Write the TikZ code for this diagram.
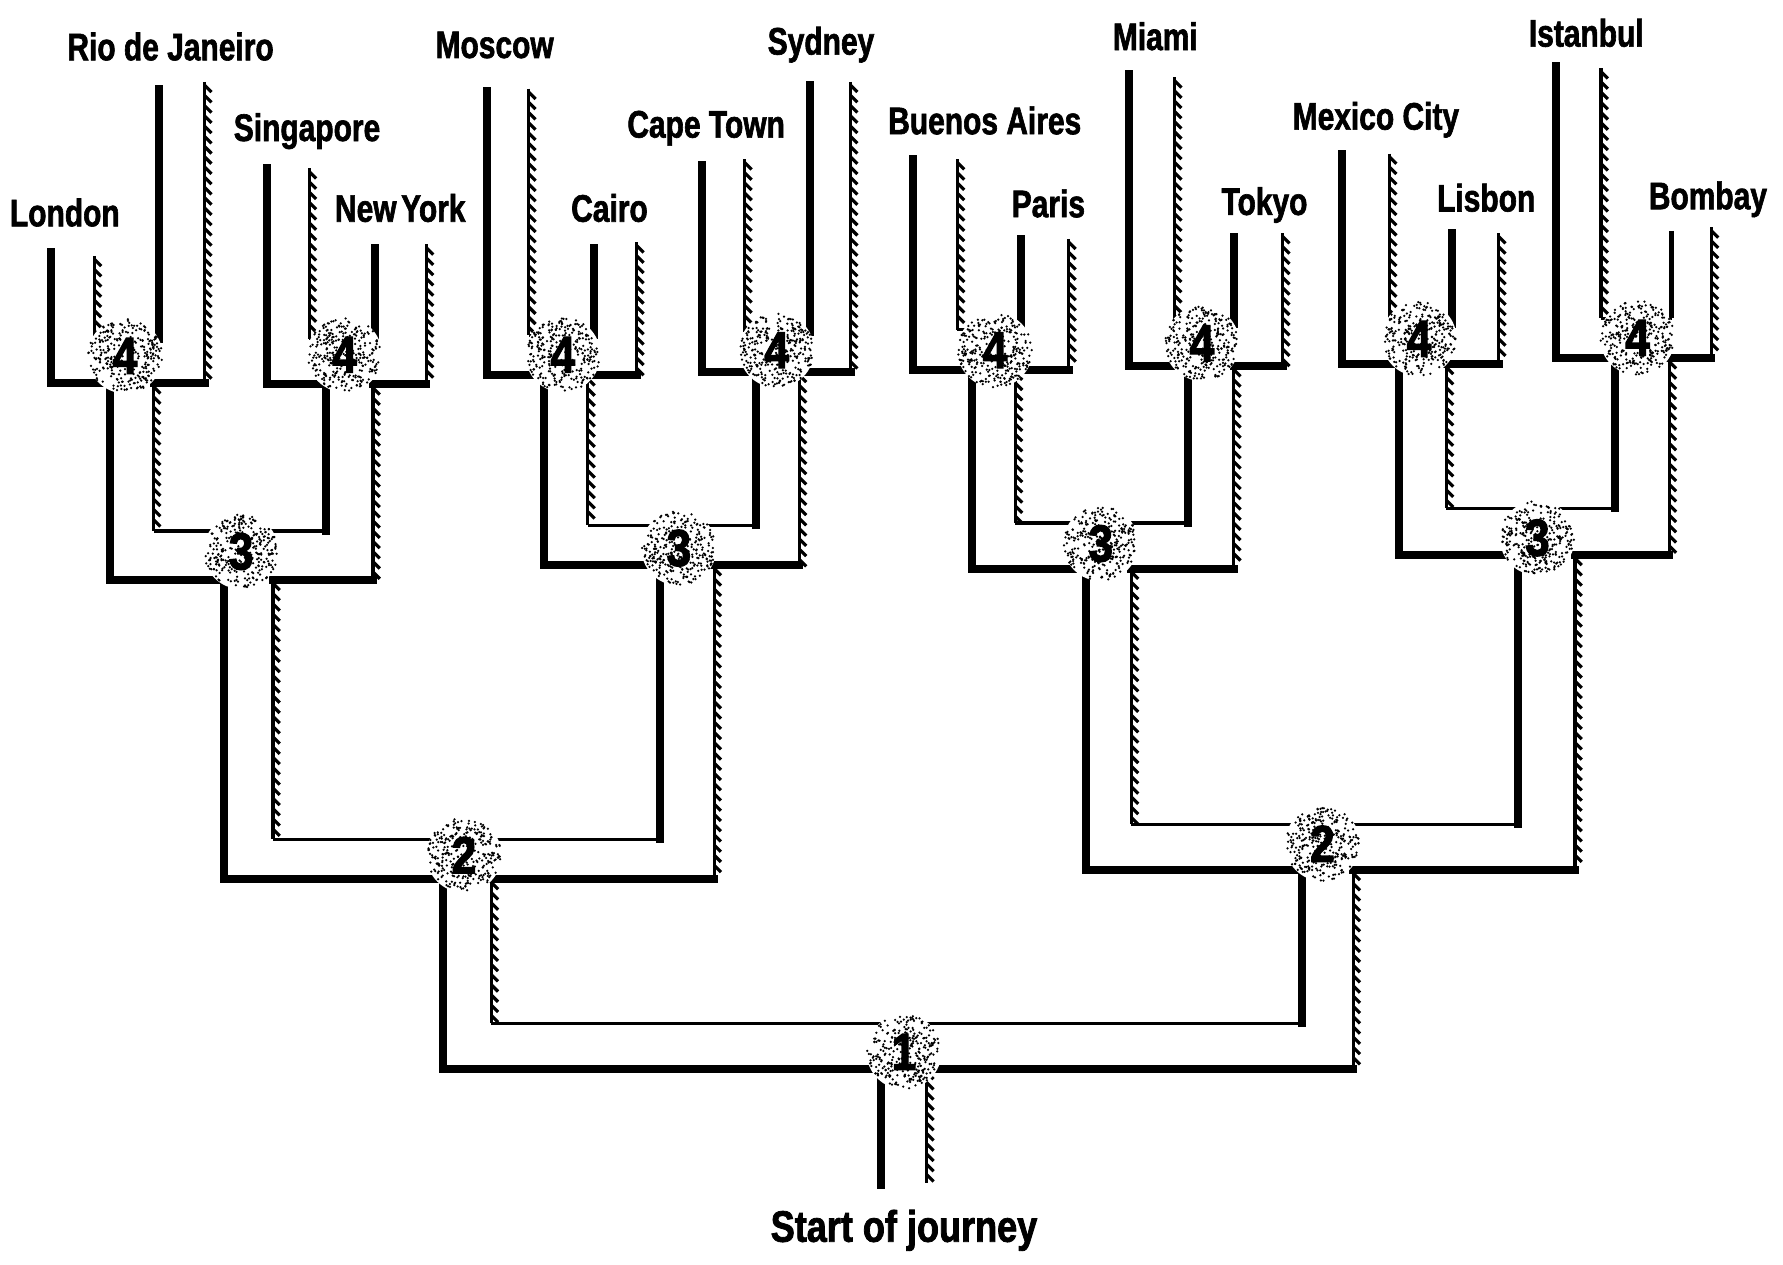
\documentclass[tikz,border=0pt]{standalone}
\usepackage{fontspec}
\setmainfont{Liberation Sans}[FakeStretch=0.78, BoldFeatures={FakeBold=1.6}]
\newfontfamily\startfont{Liberation Sans}[FakeStretch=0.82, BoldFeatures={FakeBold=1.8}]
\newfontfamily\digitfont{Liberation Sans}[FakeStretch=0.85, BoldFeatures={FakeBold=2.2}]

\tikzset{
  thickwall/.style={line width=2.0pt, line cap=rect, line join=miter},
  thinwall/.style={line width=0.8pt},
  hatchwall/.style={line width=0.8pt},
  city/.style={anchor=base, inner sep=0pt, font=\fontsize{9.6}{11}\selectfont\bfseries},
  startlabel/.style={anchor=base, inner sep=0pt, font=\startfont\fontsize{11}{13}\selectfont\bfseries},
  digit/.style={inner sep=0pt, font=\digitfont\fontsize{13}{15}\selectfont\bfseries},
  jdisc/.style={circle, fill=white, minimum size=0.66cm, inner sep=0pt},
}

% vertical hatched wall: x, ytop, ybottom (picture coordinates, y downward)
\newcommand\hatchline[3]{%
  \draw[hatchwall] (#1,#2) -- (#1,#3);
  \pgfmathsetmacro\hatchA{#2+3}%
  \pgfmathsetmacro\hatchB{#2+12}%
  \pgfmathsetmacro\hatchC{#3-5}%
  \foreach \hy in {\hatchA,\hatchB,...,\hatchC}{\draw[hatchwall] (#1,\hy) -- ++(6,6);}
}

% stippled junction disc: name, x, y, digit
\newcommand\jstipple[4]{%
  \node[jdisc] (#1) at (#2,#3) {};
  \foreach \k in {1,...,300}{%
    \pgfmathsetmacro\stipR{32.5*sqrt(rnd)}%
    \pgfmathsetmacro\stipA{360*rnd}%
    \pgfmathsetmacro\stipX{#2+\stipR*cos(\stipA)}%
    \pgfmathsetmacro\stipY{#3+\stipR*sin(\stipA)}%
    \fill (\stipX,\stipY) circle (1.1);
  }
  \node[digit] (#1n) at (#1) {#4};
}

\begin{document}
\begin{tikzpicture}[x=0.01cm, y=-0.01cm]
\pgfmathsetseed{7}
\fill[white] (0,0) rectangle (1568,1112);
\useasboundingbox (0,0) rectangle (1568,1112);

% ---------------- J1
\draw[thickwall] (390,940) -- (775,940) -- (775,1042);
\hatchline{815}{940}{1040}
\draw[thickwall] (815,940) -- (1190,940);
\draw[thinwall] (432,900) -- (1145,900);

% ---------------- J2 left
\draw[thickwall] (197,773) -- (390,773) -- (390,940);
\hatchline{432}{773}{900}
\draw[thickwall] (432,773) -- (628,773);
\draw[thinwall] (240,738) -- (580,738);

% ---------------- J2 right
\draw[thickwall] (955,765) -- (1145,765) -- (1145,900);
\hatchline{1190}{765}{940}
\draw[thickwall] (1190,765) -- (1385,765);
\draw[thinwall] (995,725) -- (1335,725);

% ---------------- J3a
\draw[thickwall] (97,510) -- (197,510) -- (197,773);
\hatchline{240}{510}{738}
\draw[thickwall] (240,510) -- (328,510);
\draw[thinwall] (135,467) -- (287,467);

% ---------------- J3b
\draw[thickwall] (478,497) -- (580,497) -- (580,738);
\hatchline{628}{497}{773}
\draw[thickwall] (628,497) -- (703,497);
\draw[thinwall] (517,462) -- (665,462);

% ---------------- J3c
\draw[thickwall] (855,500) -- (955,500) -- (955,765);
\hatchline{995}{500}{725}
\draw[thickwall] (995,500) -- (1085,500);
\draw[thinwall] (893,460) -- (1045,460);

% ---------------- J3d
\draw[thickwall] (1230,488) -- (1335,488) -- (1335,725);
\hatchline{1385}{488}{765}
\draw[thickwall] (1385,488) -- (1468,488);
\draw[thinwall] (1272,447) -- (1420,447);

% ---------------- J4a London / Rio
\draw[thickwall] (45,222) -- (45,337) -- (97,337) -- (97,510);
\hatchline{135}{337}{467}
\draw[thickwall] (135,337) -- (180,337);
\draw[thinwall] (83,298) -- (140,298);
\hatchline{83}{225}{298}
\draw[thickwall] (140,78) -- (140,298);
\hatchline{180}{72}{337}

% ---------------- J4b Singapore / New York
\draw[thickwall] (235,148) -- (235,338) -- (287,338) -- (287,467);
\hatchline{328}{338}{510}
\draw[thickwall] (328,338) -- (375,338);
\draw[thinwall] (272,298) -- (330,298);
\hatchline{272}{148}{298}
\draw[thickwall] (330,218) -- (330,298);
\hatchline{375}{215}{338}

% ---------------- J4c Moscow / Cairo
\draw[thickwall] (428,80) -- (428,330) -- (478,330) -- (478,497);
\hatchline{517}{330}{462}
\draw[thickwall] (517,330) -- (560,330);
\draw[thinwall] (465,295) -- (522,295);
\hatchline{465}{78}{295}
\draw[thickwall] (522,218) -- (522,295);
\hatchline{560}{213}{330}

% ---------------- J4d Cape Town / Sydney
\draw[thickwall] (617,145) -- (617,327) -- (665,327) -- (665,462);
\hatchline{703}{327}{497}
\draw[thickwall] (703,327) -- (748,327);
\draw[thinwall] (655,292) -- (712,292);
\hatchline{655}{140}{292}
\draw[thickwall] (712,75) -- (712,292);
\hatchline{748}{72}{327}

% ---------------- J4e Buenos Aires / Paris
\draw[thickwall] (803,140) -- (803,325) -- (855,325) -- (855,500);
\hatchline{893}{325}{460}
\draw[thickwall] (893,325) -- (940,325);
\draw[thinwall] (842,290) -- (898,290);
\hatchline{842}{140}{290}
\draw[thickwall] (898,210) -- (898,290);
\hatchline{940}{210}{325}

% ---------------- J4f Miami / Tokyo
\draw[thickwall] (993,65) -- (993,322) -- (1045,322) -- (1045,460);
\hatchline{1085}{322}{500}
\draw[thickwall] (1085,322) -- (1128,322);
\draw[thinwall] (1033,285) -- (1085,285);
\hatchline{1033}{68}{285}
\draw[thickwall] (1085,208) -- (1085,285);
\hatchline{1128}{205}{322}

% ---------------- J4g Mexico City / Lisbon
\draw[thickwall] (1180,135) -- (1180,320) -- (1230,320) -- (1230,488);
\hatchline{1272}{320}{447}
\draw[thickwall] (1272,320) -- (1318,320);
\draw[thinwall] (1222,285) -- (1277,285);
\hatchline{1222}{135}{285}
\draw[thickwall] (1277,205) -- (1277,285);
\hatchline{1318}{205}{320}

% ---------------- J4h Istanbul / Bombay
\draw[thickwall] (1368,58) -- (1368,315) -- (1420,315) -- (1420,447);
\hatchline{1468}{315}{488}
\draw[thickwall] (1468,315) -- (1505,315);
\draw[thinwall] (1408,280) -- (1470,280);
\hatchline{1408}{60}{280}
\draw[line width=1.1pt] (1470,203) -- (1470,280);
\hatchline{1505}{200}{315}

% ---------------- junction discs
\jstipple{ja}{795}{925}{1}
\jstipple{jba}{408}{752}{2}
\jstipple{jbb}{1163}{742}{2}
\jstipple{jca}{212}{485}{3}
\jstipple{jcb}{597}{482}{3}
\jstipple{jcc}{968}{478}{3}
\jstipple{jcd}{1352}{473}{3}
\jstipple{jda}{110}{313}{4}
\jstipple{jdb}{303}{312}{4}
\jstipple{jdc}{495}{312}{4}
\jstipple{jdd}{683}{308}{4}
\jstipple{jde}{875}{308}{4}
\jstipple{jdf}{1057}{302}{4}
\jstipple{jdg}{1248}{298}{4}
\jstipple{jdh}{1440}{297}{4}

% ---------------- labels
\node[city] (london) at (57,199) {London};
\node[city] (rio) at (150,53) {Rio de Janeiro};
\node[city] (singapore) at (270,124) {Singapore};
\node[city] (newyork) at (352,195) {New\hspace{0.12em}York};
\node[city] (moscow) at (435,51) {Moscow};
\node[city] (cairo) at (536,195) {Cairo};
\node[city] (capetown) at (621,121) {Cape Town};
\node[city] (sydney) at (722,48) {Sydney};
\node[city] (buenosaires) at (866,118) {Buenos Aires};
\node[city] (paris) at (922,191) {Paris};
\node[city] (miami) at (1016,44) {Miami};
\node[city] (tokyo) at (1112,189) {Tokyo};
\node[city] (mexicocity) at (1210,114) {Mexico City};
\node[city] (lisbon) at (1307,186) {Lisbon};
\node[city] (istanbul) at (1395,41) {Istanbul};
\node[city] (bombay) at (1502,184) {Bombay};
\node[startlabel] (start) at (795,1092) {Start of journey};
\end{tikzpicture}
\end{document}
